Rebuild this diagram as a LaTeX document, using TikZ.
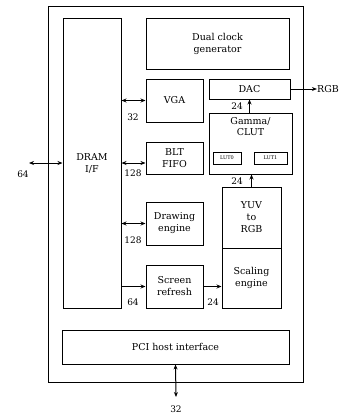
\documentclass[tikz,border=0pt]{standalone}
\usepackage{fontspec}
\setmainfont{DejaVu Serif}
\usepackage{tikz}
\usetikzlibrary{positioning, arrows.meta}

\begin{document}
\begin{tikzpicture}[
                x=1pt, y=-1pt,
                >={Stealth[length=5pt, width=4pt]},
                blk/.style={rectangle, draw, line width=1pt, inner sep=1pt, align=center, font=\fontsize{9.5}{12}\selectfont},
                lut/.style={rectangle, draw, line width=0.8pt, inner sep=0pt, font=\fontsize{5}{6}\selectfont},
                bus/.style={font=\fontsize{9}{10}\selectfont, inner sep=0pt},
                wire/.style={line width=1pt}
            ]
                \useasboundingbox (0,0) rectangle (339,415);

                % Nodes
                \node[blk, minimum width=255, minimum height=376] (chip) at (175.5,194) {};
                \node[blk, minimum width=58, minimum height=290] (dram) at (92,163) {DRAM\\I/F};
                \node[blk, minimum width=143, minimum height=51] (clk) at (217.5,43.5) {Dual clock\\generator};
                \node[blk, minimum width=57, minimum height=43] (vga) at (174.5,100.5) {VGA};
                \node[blk, minimum width=57, minimum height=32] (blt) at (174.5,158) {BLT\\FIFO};
                \node[blk, minimum width=57, minimum height=43] (draw) at (174.5,223.5) {Drawing\\engine};
                \node[blk, minimum width=57, minimum height=43] (scr) at (174.5,286.5) {Screen\\refresh};
                \node[blk, minimum width=81, minimum height=20] (dac) at (249.5,89) {DAC};
                \node[blk, minimum width=83, minimum height=61] (gam) at (250.5,143.5) {};
                \node[align=center, font=\fontsize{9.5}{11}\selectfont, below=1pt of gam.north] {Gamma/\\CLUT};
                \node[lut, minimum width=28, minimum height=12] (lut0) at (227,158) {LUT0};
                \node[lut, minimum width=33, minimum height=12] (lut1) at (270.5,158) {LUT1};
                \node[blk, minimum width=59, minimum height=61] (yuv) at (251.5,217.5) {YUV\\to\\RGB};
                \node[blk, minimum width=59, minimum height=60] (scal) at (251.5,278) {Scaling\\engine};
                \node[blk, minimum width=227, minimum height=34] (pci) at (175.5,347) {PCI host interface};
                \node[font=\fontsize{9.5}{12}\selectfont, inner sep=0pt] (rgb) at (328,89) {RGB};
                \coordinate (mem) at (29,163);
                \coordinate (host) at (176,397);

                % Path connections
                \draw[<->, wire] (mem) -- (dram.west);
                \draw[<->, wire] (dram.east |- vga) -- (vga.west);
                \draw[<->, wire] (dram.east |- mem) -- (blt.west |- mem);
                \draw[<->, wire] (dram.east |- draw) -- (draw.west);
                \draw[->, wire] (dram.east |- scr) -- (scr.west);
                \draw[->, wire] (scr.east) -- (scal.west |- scr);
                \draw[->, wire] (yuv.north) -- (yuv.north |- gam.south);
                \draw[->, wire] (dac.south |- gam.north) -- (dac.south);
                \draw[->, wire] (dac.east) -- (rgb.west);
                \draw[<->, wire] (pci.south) -- (host);

                % Bus widths
                \node[bus] at (23,174) {64};
                \node[bus] at (133,117) {32};
                \node[bus] at (133,173) {128};
                \node[bus] at (133,240) {128};
                \node[bus] at (133,302) {64};
                \node[bus] at (213,302) {24};
                \node[bus] at (237,106) {24};
                \node[bus] at (237,181) {24};
                \node[bus] at (176,409) {32};
            \end{tikzpicture}
\end{document}
